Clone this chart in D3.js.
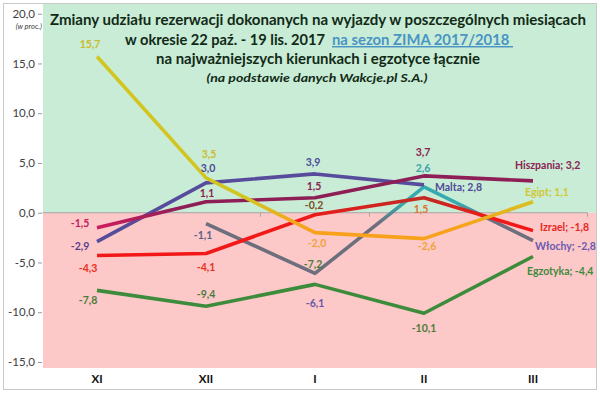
<!DOCTYPE html>
<html>
<head>
<meta charset="utf-8">
<script src="https://cdn.jsdelivr.net/npm/d3@7/dist/d3.min.js"></script>
<style>
  body { margin: 0; background: #fff; }
  svg { display: block; font-family: Lato, "Open Sans", sans-serif; }
</style>
</head>
<body>
<svg id="chart" width="600" height="394"></svg>
<script>
// data
var months = ['XI', 'XII', 'I', 'II', 'III'];
var yTicks = [20, 15, 10, 5, 0, -5, -10, -15];
var seriesNames = ['Egzotyka', 'Włochy', 'Izrael', 'Malta', 'Hiszpania', 'Egipt'];
var egipt = [15.7, 3.5, -2.0, -2.6, 1.1];
var malta = [-2.9, 3.0, 3.9, 2.8, null];
var hiszpania = [-1.5, 1.1, 1.5, 3.7, 3.2];
var izrael = [-4.3, -4.1, -0.2, 1.5, -1.8];
var wlochy = [null, -1.1, -6.1, 2.6, -2.8];
var egzotyka = [-7.8, -9.4, -7.2, -10.1, -4.4];

var values = {
    'Egipt': egipt, 'Malta': malta, 'Hiszpania': hiszpania,
    'Izrael': izrael, 'Włochy': wlochy, 'Egzotyka': egzotyka
};

// styles: line colour above / below zero and where the blend happens
var style = {
    'Egipt': { top: '#d3c51f', bottom: '#f8a21c', from: 1.5, to: -1.5,
        labels: ['#c9bb2f', '#c9bb2f', '#f2a238', '#f2a238', '#d2c832'] },
    'Malta': { top: '#574c9c', bottom: '#574c9c', from: 1, to: -1,
        labels: ['#5e3f8e', '#4d4a98', '#4d4a98', '#4d4a98', '#4d4a98'] },
    'Hiszpania': { top: '#8d1f56', bottom: '#d01c5e', from: 0.5, to: -1.5,
        labels: ['#c41d5c', '#8b2252', '#8b2252', '#8b2252', '#8b2252'] },
    'Izrael': { top: '#c42a22', bottom: '#f21818', from: 1.2, to: -0.6,
        labels: ['#e8301e', '#e8301e', '#7a4e22', '#e07030', '#e8281e'] },
    'Włochy': { top: '#37aab0', bottom: '#6d6f7d', from: 1, to: -1,
        labels: ['#5a5f88', '#5a5f88', '#6656a8', '#3fa0a8', '#6a5ab0'] },
    'Egzotyka': { top: '#3c8c3c', bottom: '#3c8c3c', from: 1, to: -1,
        labels: ['#4b7c3c', '#4b7c3c', '#4b7c3c', '#4b7c3c', '#3f8a3f'] }
};

// label placement relative to each point [dx, dy]
var labelOffset = {
    'Egipt': [[-7, -12.5], [3, -24], [2, 11], [3, 8], [-8, -9]],
    'Malta': [[-17, 5], [2, -14.5], [-2, -12], [11, 2], null],
    'Hiszpania': [[-17, -4], [1, -8.5], [-1, -11], [-1, -24], [-18, -16]],
    'Izrael': [[-9, 13], [0, 14], [-1, -9], [-3, 12], [7, -3]],
    'Włochy': [null, [-3, 12], [0, 30], [-1, -18.5], [2, 5.5]],
    'Egzotyka': [[-9, 10], [0, -12], [-2, -20], [0, 15], [-6, 15]]
};

var svg = d3.select('#chart');
var fmt = function (v) { return d3.format('.1f')(v).replace('.', ',').replace('\u2212', '-'); };

var x = d3.scaleBand().domain(months).range([42.5, 587.5]);
var y = d3.scaleLinear().domain([-15, 20]).range([362, 13.7]);
var cx = function (m) { return x(m) + x.bandwidth() / 2; };

// frame
svg.append('rect')
    .attr('x', 3.5).attr('y', 3.5).attr('width', 593).attr('height', 386)
    .attr('fill', '#fff').attr('stroke', '#c9c9c9');

// background above / below zero
svg.append('rect')
    .attr('x', 43).attr('y', 4).attr('width', 553).attr('height', y(0) - 4)
    .attr('fill', '#c9ecd6');
svg.append('rect')
    .attr('x', 43).attr('y', y(0)).attr('width', 553).attr('height', 368 - y(0))
    .attr('fill', '#fdc8c8');

// y axis
var yAxis = svg.append('g')
    .attr('transform', 'translate(42,0)')
    .call(d3.axisLeft(y).tickValues(yTicks).tickSize(4).tickPadding(3).tickFormat(fmt));
yAxis.select('.domain').remove();
yAxis.selectAll('line').attr('stroke', '#999');
yAxis.selectAll('text')
    .style('font-family', 'Lato, sans-serif')
    .style('font-size', '11.5px')
    .attr('fill', '#404040');

svg.append('text')
    .attr('x', 42).attr('y', 29)
    .attr('text-anchor', 'end')
    .style('font-size', '7.5px')
    .style('font-style', 'italic')
    .attr('fill', '#404040')
    .text('(w proc.)');

// zero line
var xAxis = svg.append('g')
    .attr('transform', 'translate(0,' + y(0) + ')');
xAxis.append('line')
    .attr('x1', 42.5).attr('x2', 587.5)
    .attr('stroke', '#a6a6a6').attr('stroke-width', 1);
xAxis.selectAll('.tk')
    .data(months.slice(1).concat(['end']))
    .enter().append('line')
    .attr('class', 'tk')
    .attr('x1', function (d) { return d === 'end' ? 587.5 : x(d); })
    .attr('x2', function (d) { return d === 'end' ? 587.5 : x(d); })
    .attr('y1', 0).attr('y2', 4)
    .attr('stroke', '#a6a6a6');

// month labels
svg.selectAll('.month')
    .data(months)
    .enter().append('text')
    .attr('class', 'month')
    .attr('x', cx)
    .attr('y', 383)
    .attr('text-anchor', 'middle')
    .style('font-size', '11.5px')
    .style('font-weight', 'bold')
    .attr('fill', '#111')
    .text(function (d) { return d; });

// gradients per series
var defs = svg.append('defs');
seriesNames.forEach(function (name, i) {
    var s = style[name];
    var g = defs.append('linearGradient')
        .attr('id', 'grad' + i)
        .attr('gradientUnits', 'userSpaceOnUse')
        .attr('x1', 0).attr('x2', 0)
        .attr('y1', y(s.from)).attr('y2', y(s.to));
    g.append('stop').attr('offset', 0).attr('stop-color', s.top);
    g.append('stop').attr('offset', 1).attr('stop-color', s.bottom);
});

var line = d3.line()
    .defined(function (d) { return d.v != null; })
    .x(function (d) { return cx(d.m); })
    .y(function (d) { return y(d.v); });

seriesNames.forEach(function (name, i) {
    var pts = months.map(function (m, j) { return { m: m, v: values[name][j] }; });
    svg.append('path')
        .datum(pts)
        .attr('fill', 'none')
        .attr('stroke', 'url(#grad' + i + ')')
        .attr('stroke-width', 3.6)
        .attr('stroke-linejoin', 'round')
        .attr('d', line);
});

// data labels
seriesNames.forEach(function (name) {
    var s = style[name];
    months.forEach(function (m, j) {
        var v = values[name][j];
        var off = labelOffset[name][j];
        if (v == null || !off) return;
        var last = (j === months.length - 1) || (name === 'Malta' && j === 3);
        svg.append('text')
            .attr('x', cx(m) + off[0])
            .attr('y', y(v) + off[1])
            .attr('dy', '0.35em')
            .attr('text-anchor', last ? 'start' : 'middle')
            .style('font-size', '10.5px')
            .style('font-weight', 'bold')
            .attr('fill', s.labels[j])
            .text(last ? name + '; ' + fmt(v) : fmt(v));
    });
});

// title
var titleColor = '#112a16';
svg.append('text')
    .attr('x', 318).attr('y', 25)
    .attr('text-anchor', 'middle')
    .attr('textLength', 536).attr('lengthAdjust', 'spacingAndGlyphs')
    .style('font-size', '14.5px').style('font-weight', 'bold')
    .attr('fill', titleColor)
    .text('Zmiany udziału rezerwacji dokonanych na wyjazdy w poszczególnych miesiącach');

var t2 = svg.append('text')
    .attr('x', 125).attr('y', 45)
    .style('font-size', '14.5px').style('font-weight', 'bold')
    .attr('fill', titleColor);
t2.append('tspan')
    .attr('textLength', 200).attr('lengthAdjust', 'spacingAndGlyphs')
    .text('w okresie 22 paź. - 19 lis. 2017');
t2.append('tspan')
    .attr('x', 332)
    .attr('textLength', 181).attr('lengthAdjust', 'spacingAndGlyphs')
    .attr('fill', '#4a95c4')
    .style('text-decoration', 'underline')
    .text('na sezon ZIMA 2017/2018\u00a0');

svg.append('text')
    .attr('x', 318).attr('y', 64)
    .attr('text-anchor', 'middle')
    .attr('textLength', 324).attr('lengthAdjust', 'spacingAndGlyphs')
    .style('font-size', '14.5px').style('font-weight', 'bold')
    .attr('fill', titleColor)
    .text('na najważniejszych kierunkach i egzotyce łącznie');

svg.append('text')
    .attr('x', 317).attr('y', 82)
    .attr('text-anchor', 'middle')
    .attr('textLength', 221).attr('lengthAdjust', 'spacingAndGlyphs')
    .style('font-size', '12px').style('font-weight', 'bold').style('font-style', 'italic')
    .attr('fill', titleColor)
    .text('(na podstawie danych Wakcje.pl S.A.)');
</script>
</body>
</html>
